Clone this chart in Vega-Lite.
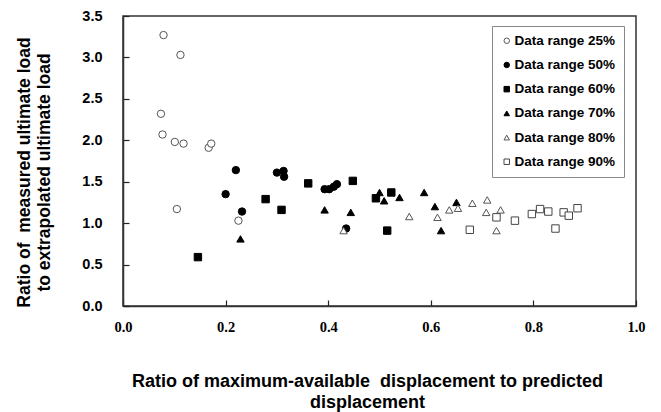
{
  "$schema": "https://vega.github.io/schema/vega-lite/v6.json",
  "autosize": "none",
  "width": 513,
  "height": 290,
  "padding": {"left": 123, "top": 16, "right": 25, "bottom": 106},
  "background": "white",
  "config": {
    "view": {"stroke": "#333", "strokeWidth": 1.5},
    "axis": {"grid": false, "domainColor": "#333", "domainWidth": 1.5, "tickColor": "#222", "tickWidth": 1.2}
  },
  "data": {
    "values": [
      {"x": 0.079, "y": 3.27, "s": "Data range 25%"},
      {"x": 0.112, "y": 3.03, "s": "Data range 25%"},
      {"x": 0.074, "y": 2.32, "s": "Data range 25%"},
      {"x": 0.077, "y": 2.07, "s": "Data range 25%"},
      {"x": 0.101, "y": 1.98, "s": "Data range 25%"},
      {"x": 0.118, "y": 1.96, "s": "Data range 25%"},
      {"x": 0.167, "y": 1.91, "s": "Data range 25%"},
      {"x": 0.172, "y": 1.96, "s": "Data range 25%"},
      {"x": 0.105, "y": 1.17, "s": "Data range 25%"},
      {"x": 0.225, "y": 1.03, "s": "Data range 25%"},
      {"x": 0.200, "y": 1.35, "s": "Data range 50%"},
      {"x": 0.220, "y": 1.64, "s": "Data range 50%"},
      {"x": 0.232, "y": 1.14, "s": "Data range 50%"},
      {"x": 0.300, "y": 1.61, "s": "Data range 50%"},
      {"x": 0.313, "y": 1.63, "s": "Data range 50%"},
      {"x": 0.314, "y": 1.56, "s": "Data range 50%"},
      {"x": 0.393, "y": 1.41, "s": "Data range 50%"},
      {"x": 0.402, "y": 1.41, "s": "Data range 50%"},
      {"x": 0.411, "y": 1.44, "s": "Data range 50%"},
      {"x": 0.417, "y": 1.47, "s": "Data range 50%"},
      {"x": 0.435, "y": 0.935, "s": "Data range 50%"},
      {"x": 0.146, "y": 0.59, "s": "Data range 60%"},
      {"x": 0.278, "y": 1.29, "s": "Data range 60%"},
      {"x": 0.309, "y": 1.16, "s": "Data range 60%"},
      {"x": 0.361, "y": 1.48, "s": "Data range 60%"},
      {"x": 0.448, "y": 1.51, "s": "Data range 60%"},
      {"x": 0.493, "y": 1.30, "s": "Data range 60%"},
      {"x": 0.523, "y": 1.37, "s": "Data range 60%"},
      {"x": 0.515, "y": 0.91, "s": "Data range 60%"},
      {"x": 0.229, "y": 0.81, "s": "Data range 70%"},
      {"x": 0.393, "y": 1.16, "s": "Data range 70%"},
      {"x": 0.444, "y": 1.13, "s": "Data range 70%"},
      {"x": 0.500, "y": 1.37, "s": "Data range 70%"},
      {"x": 0.509, "y": 1.27, "s": "Data range 70%"},
      {"x": 0.539, "y": 1.31, "s": "Data range 70%"},
      {"x": 0.587, "y": 1.37, "s": "Data range 70%"},
      {"x": 0.608, "y": 1.20, "s": "Data range 70%"},
      {"x": 0.620, "y": 0.91, "s": "Data range 70%"},
      {"x": 0.650, "y": 1.25, "s": "Data range 70%"},
      {"x": 0.430, "y": 0.91, "s": "Data range 80%"},
      {"x": 0.558, "y": 1.08, "s": "Data range 80%"},
      {"x": 0.613, "y": 1.07, "s": "Data range 80%"},
      {"x": 0.636, "y": 1.16, "s": "Data range 80%"},
      {"x": 0.653, "y": 1.18, "s": "Data range 80%"},
      {"x": 0.681, "y": 1.24, "s": "Data range 80%"},
      {"x": 0.710, "y": 1.28, "s": "Data range 80%"},
      {"x": 0.708, "y": 1.13, "s": "Data range 80%"},
      {"x": 0.736, "y": 1.16, "s": "Data range 80%"},
      {"x": 0.728, "y": 0.91, "s": "Data range 80%"},
      {"x": 0.676, "y": 0.92, "s": "Data range 90%"},
      {"x": 0.728, "y": 1.07, "s": "Data range 90%"},
      {"x": 0.764, "y": 1.03, "s": "Data range 90%"},
      {"x": 0.797, "y": 1.11, "s": "Data range 90%"},
      {"x": 0.813, "y": 1.17, "s": "Data range 90%"},
      {"x": 0.829, "y": 1.14, "s": "Data range 90%"},
      {"x": 0.843, "y": 0.935, "s": "Data range 90%"},
      {"x": 0.859, "y": 1.13, "s": "Data range 90%"},
      {"x": 0.869, "y": 1.09, "s": "Data range 90%"},
      {"x": 0.886, "y": 1.18, "s": "Data range 90%"}
    ]
  },
  "mark": {"type": "point", "filled": false, "size": 55, "strokeWidth": 1, "opacity": 1},
  "encoding": {
    "x": {
      "field": "x", "type": "quantitative",
      "scale": {"domain": [0, 1], "nice": false, "zero": false},
      "axis": {
        "values": [0, 0.2, 0.4, 0.6, 0.8, 1.0], "format": ".1f",
        "ticks": true, "tickSize": -6,
        "labelFont": "Liberation Serif", "labelFontWeight": "bold", "labelFontSize": 14.5, "labelColor": "black",
        "labelPadding": 20, "labelFlush": false,
        "title": ["Ratio of maximum-available\u00a0\u00a0displacement to predicted", "displacement"],
        "titleFont": "Liberation Sans", "titleFontWeight": "bold", "titleFontSize": 18, "titleColor": "black",
        "titleX": 244, "titleY": 80, "titleBaseline": "alphabetic", "titleAlign": "center", "titleLineHeight": 21
      }
    },
    "y": {
      "field": "y", "type": "quantitative",
      "scale": {"domain": [0, 3.5], "nice": false},
      "axis": {
        "values": [0, 0.5, 1, 1.5, 2, 2.5, 3, 3.5], "format": ".1f",
        "ticks": true, "tickSize": -6,
        "labelFont": "Liberation Sans", "labelFontWeight": "bold", "labelFontSize": 14.5, "labelColor": "black",
        "labelPadding": 27, "labelFlush": false,
        "title": ["Ratio of\u00a0\u00a0measured ultimate load", "to extrapolated ultimate load"],
        "titleFont": "Liberation Sans", "titleFontWeight": "bold", "titleFontSize": 17.5, "titleColor": "black",
        "titleAngle": -90, "titleX": -108, "titleY": 156, "titleBaseline": "top", "titleAlign": "center", "titleLineHeight": 20
      }
    },
    "shape": {
      "field": "s", "type": "nominal",
      "scale": {
        "domain": ["Data range 25%", "Data range 50%", "Data range 60%", "Data range 70%", "Data range 80%", "Data range 90%"],
        "range": ["circle", "circle", "square", "triangle-up", "triangle-up", "square"]
      },
      "legend": {
        "title": null, "orient": "none", "legendX": 369, "legendY": 10,
        "fillColor": "white", "strokeColor": "#888", "padding": 8,
        "labelFont": "Liberation Sans", "labelFontWeight": "bold", "labelFontSize": 13.5, "labelColor": "black",
        "symbolSize": 30, "rowPadding": 9.2, "labelOffset": 1, "symbolStrokeWidth": 1, "labelLimit": 0
      }
    },
    "fill": {
      "field": "s", "type": "nominal",
      "scale": {
        "domain": ["Data range 25%", "Data range 50%", "Data range 60%", "Data range 70%", "Data range 80%", "Data range 90%"],
        "range": ["white", "black", "black", "black", "white", "white"]
      },
      "legend": null
    },
    "stroke": {
      "field": "s", "type": "nominal",
      "scale": {
        "domain": ["Data range 25%", "Data range 50%", "Data range 60%", "Data range 70%", "Data range 80%", "Data range 90%"],
        "range": ["#555", "black", "black", "black", "#555", "#444"]
      },
      "legend": null
    }
  }
}
